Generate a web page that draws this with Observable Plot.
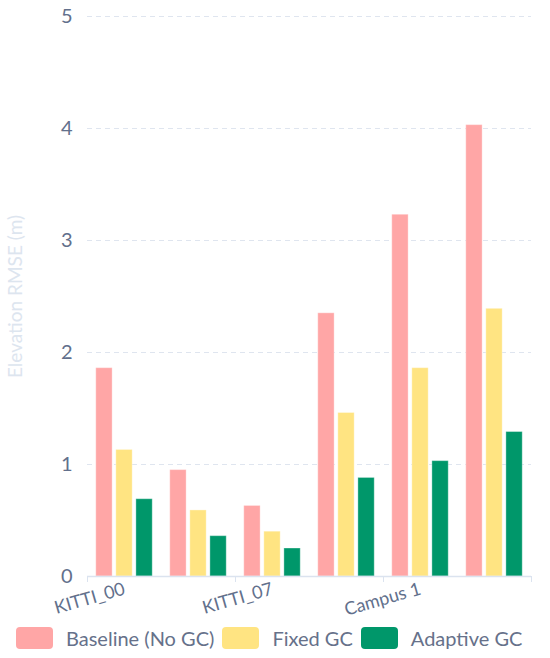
<!DOCTYPE html>
<html><head><meta charset="utf-8">
<script src="https://cdn.jsdelivr.net/npm/d3@7"></script>
<script src="https://cdn.jsdelivr.net/npm/@observablehq/plot@0.6"></script>
<style>
body{margin:0;background:#fff;font-family:Lato, sans-serif;}
#legend{display:flex;align-items:center;height:40px;padding-left:16px;color:#66718a;font-size:20px;box-sizing:border-box}
.item{display:flex;align-items:center;margin-right:8px;white-space:nowrap}
.sw{width:37px;height:22px;border-radius:4px;margin-right:13px}
</style></head><body><div id="chart"></div><div id="legend"></div>
<script>
const groups = ["KITTI_00", "KITTI_05", "KITTI_07", "KITTI_08", "Campus 1", "Campus 2"];
const seriesNames = ["Baseline (No GC)", "Fixed GC", "Adaptive GC"];
const baseline = [1.86, 0.95, 0.63, 2.35, 3.23, 4.03];
const fixedGC = [1.13, 0.59, 0.40, 1.46, 1.86, 2.39];
const adaptiveGC = [0.69, 0.36, 0.25, 0.88, 1.03, 1.29];
const yTicks = [0, 1, 2, 3, 4, 5];
const colors = ["#ffa6a6", "#ffe482", "#00976a"];

const seriesValues = [baseline, fixedGC, adaptiveGC];
const table = groups.flatMap((g, i) => seriesValues.map((arr, s) => ({group: g, gi: i, s, series: seriesNames[s], value: arr[i]})));

// bar layout inside each category band (fractions of the band)
const barW = 0.221, gapW = 0.05;
const outer = (1 - 3 * barW - 2 * gapW) / 2;
const x1 = d => d.gi + outer + d.s * (barW + gapW);
const x2 = d => x1(d) + barW;

const txt = "#62708c";
const chart = Plot.plot({
  width: 550, height: 618,
  marginLeft: 87, marginRight: 19, marginTop: 16, marginBottom: 42,
  style: {fontFamily: "Lato, sans-serif", background: "#fff", color: txt, overflow: "visible"},
  x: {domain: [0, groups.length], axis: null},
  y: {domain: [0, 5], axis: null},
  color: {domain: seriesNames, range: colors},
  marks: [
    Plot.gridY(yTicks.slice(1), {stroke: "#dfe5ef", strokeOpacity: 1, strokeDasharray: "5,4", strokeWidth: 1}),
    Plot.axisY(yTicks, {tickSize: 0, tickPadding: 15, fontSize: 20, color: txt, tickFormat: d => String(d), label: null}),
    Plot.axisY([], {label: "Elevation RMSE (m)", labelAnchor: "center", labelArrow: "none", labelOffset: 79, fontSize: 19, color: "#dde5ef"}),
    Plot.rectY(table, {x1, x2, y: "value", fill: "series", stroke: "#ffffff", strokeOpacity: 0.35, strokeWidth: 1}),
    Plot.ruleY([0], {stroke: "#dbe3ef", strokeWidth: 1.5}),
    Plot.axisX(d3.range(0, groups.length + 1, 2), {tickSize: 6, tickFormat: () => "", stroke: "#dbe3ef", label: null}),
    Plot.axisX(d3.range(0.5, groups.length, 2), {tickSize: 0, tickPadding: 12, tickRotate: -16, tickFormat: v => groups[Math.floor(v)], fontSize: 18, color: txt, label: null})
  ]
});
document.getElementById("chart").appendChild(chart);

const legend = document.getElementById("legend");
seriesNames.forEach((n, i) => {
  const it = document.createElement("div");
  it.className = "item";
  it.innerHTML = `<span class="sw" style="background:${colors[i]}"></span><span>${n}</span>`;
  legend.appendChild(it);
});
</script></body></html>
